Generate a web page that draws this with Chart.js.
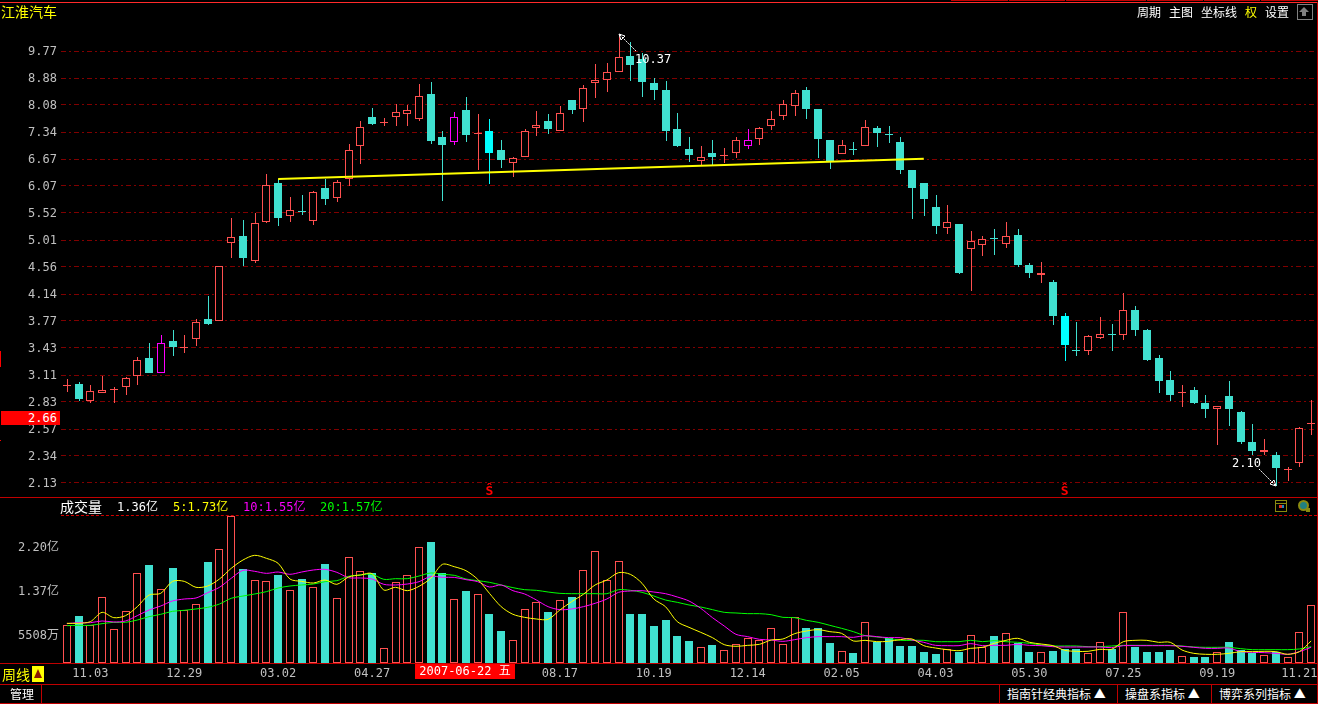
<!DOCTYPE html>
<html>
<head>
<meta charset="utf-8">
<title>江淮汽车</title>
<script src="https://cdn.jsdelivr.net/npm/chart.js@4/dist/chart.umd.js"></script>
<style>
  html, body { margin: 0; padding: 0; background: #000; overflow: hidden; }
  canvas { position: absolute; left: 0; }
  .t { position: absolute; white-space: nowrap; font: 12px/14px "DejaVu Sans Mono", "Noto Sans CJK SC", monospace; color: #fff; }
  .l { position: absolute; background: #c00000; }
</style>
</head>
<body>
<!-- frame lines -->
<div class="l" style="left:0;top:2px;width:1318px;height:1px;background:#ff2a2a"></div>
<div class="l" style="left:951px;top:0;width:57px;height:1px"></div>
<div class="l" style="left:1009px;top:0;width:56px;height:1px"></div>
<div class="l" style="left:1066px;top:0;width:80px;height:1px"></div>
<div class="l" style="left:1147px;top:0;width:56px;height:1px"></div>
<div class="l" style="left:1204px;top:0;width:56px;height:1px"></div>
<div class="l" style="left:1261px;top:0;width:57px;height:1px"></div>
<div class="l" style="left:1317px;top:2px;width:1px;height:702px"></div>
<div class="l" style="left:0;top:497px;width:1318px;height:1px"></div>
<div style="position:absolute;left:61px;top:515px;width:1256px;height:0;border-top:1px dashed #d00000"></div>
<div class="l" style="left:0;top:663px;width:1318px;height:1px"></div>
<div class="l" style="left:0;top:684px;width:1318px;height:1px"></div>
<div class="l" style="left:0;top:703px;width:1318px;height:1px"></div>
<div class="l" style="left:41px;top:684px;width:1px;height:20px"></div>
<div class="l" style="left:999px;top:684px;width:1px;height:20px"></div>
<div class="l" style="left:1117px;top:684px;width:1px;height:20px"></div>
<div class="l" style="left:1211px;top:684px;width:1px;height:20px"></div>
<div class="l" style="left:0;top:351px;width:1px;height:16px;background:#ff0000"></div>
<div class="l" style="left:0;top:440px;width:1px;height:1px;background:#ff0000"></div>

<canvas id="priceChart" width="1318" height="497" style="top:0"></canvas>
<canvas id="volumeChart" width="1318" height="186" style="top:497px"></canvas>

<!-- header -->
<div class="t" style="left:1px;top:3px;font-size:14px;line-height:16px;color:#ffff00;font-family:'Noto Sans CJK SC'">江淮汽车</div>
<div class="t" style="left:1137px;top:5px;font-family:'Noto Sans CJK SC'">周期</div>
<div class="t" style="left:1169px;top:5px;font-family:'Noto Sans CJK SC'">主图</div>
<div class="t" style="left:1201px;top:5px;font-family:'Noto Sans CJK SC'">坐标线</div>
<div class="t" style="left:1245px;top:5px;color:#ffff00;font-family:'Noto Sans CJK SC'">权</div>
<div class="t" style="left:1265px;top:5px;font-family:'Noto Sans CJK SC'">设置</div>
<div style="position:absolute;left:1297px;top:4px;width:14px;height:14px;border:1px solid #808080"></div>
<div style="position:absolute;left:1299px;top:7px;width:0;height:0;border-left:5px solid transparent;border-right:5px solid transparent;border-bottom:5px solid #808080"></div>
<div style="position:absolute;left:1302px;top:12px;width:4px;height:4px;background:#808080"></div>

<!-- price marker -->
<div class="t" style="left:1px;top:411px;width:56px;height:14px;padding-right:3px;background:#ff0000;text-align:right">2.66</div>

<!-- volume legend -->
<div class="t" style="left:60px;top:498px;font-size:14px;line-height:16px;font-family:'Noto Sans CJK SC'">成交量</div>
<div class="t" style="left:117px;top:500px">1.36亿</div>
<div class="t" style="left:173px;top:500px;color:#ffff00">5:1.73亿</div>
<div class="t" style="left:243px;top:500px;color:#ff00ff">10:1.55亿</div>
<div class="t" style="left:320px;top:500px;color:#00ff00">20:1.57亿</div>

<!-- volume panel icons -->
<div style="position:absolute;left:1275px;top:500px;width:10px;height:10px;border:1px solid #8a8a10"></div>
<div style="position:absolute;left:1275px;top:503px;width:12px;height:1px;background:#8a8a10"></div>
<div style="position:absolute;left:1279px;top:505px;width:3px;height:3px;background:#e03020"></div>
<div style="position:absolute;left:1282px;top:505px;width:2px;height:3px;background:#2080c0"></div>
<div style="position:absolute;left:1298px;top:500px;width:7px;height:7px;border:2px solid #8a8a10;border-radius:50%;background:#208080"></div>
<div style="position:absolute;left:1306px;top:508px;width:4px;height:4px;background:#8a8a10"></div>

<!-- bottom bars -->
<div class="t" style="left:2px;top:666px;font-size:14px;line-height:16px;color:#ffff00;font-family:'Noto Sans CJK SC'">周线</div>
<div style="position:absolute;left:32px;top:666px;width:12px;height:16px;background:#ffff00"></div>
<div style="position:absolute;left:34px;top:669px;width:0;height:0;border-left:4px solid transparent;border-right:4px solid transparent;border-bottom:9px solid #8b1a00"></div>
<div class="t" style="left:415px;top:664px;width:100px;height:15px;overflow:hidden;background:#ff0000;text-align:center;line-height:15px">2007-06-22 五</div>
<div class="t" style="left:10px;top:687px;font-family:'Noto Sans CJK SC'">管理</div>
<div class="t" style="left:1007px;top:687px;font-family:'Noto Sans CJK SC'">指南针经典指标 ▲</div>
<div class="t" style="left:1125px;top:687px;font-family:'Noto Sans CJK SC'">操盘系指标 ▲</div>
<div class="t" style="left:1219px;top:687px;font-family:'Noto Sans CJK SC'">博弈系列指标 ▲</div>

<script>
// weekly candles
let opens = [
  3.00, 3.01, 2.84, 2.92, 2.96, 2.98, 3.10, 3.30, 3.14, 3.51,
  3.44, 3.53, 3.79, 3.77, 4.97, 5.09, 4.65, 5.35, 6.13, 5.45,
  5.55, 5.37, 6.02, 5.81, 6.23, 6.98, 7.74, 7.60, 7.75, 7.83,
  7.69, 8.40, 7.22, 7.10, 7.93, 7.32, 7.37, 6.88, 6.59, 6.73,
  7.46, 7.63, 7.36, 8.22, 7.97, 8.72, 8.84, 9.07, 9.61, 9.51,
  8.74, 8.53, 7.42, 6.91, 6.63, 6.81, 6.77, 6.82, 7.00, 7.17,
  7.51, 7.78, 8.06, 8.53, 7.96, 7.15, 6.80, 6.91, 6.98, 7.45,
  7.30, 7.10, 6.41, 6.13, 5.64, 5.23, 5.31, 4.86, 4.93, 5.05,
  4.95, 5.10, 4.59, 4.43, 4.32, 3.83, 3.40, 3.39, 3.55, 3.60,
  3.58, 3.92, 3.65, 3.31, 3.06, 2.93, 2.95, 2.82, 2.76, 2.89,
  2.73, 2.46, 2.37, 2.35, 2.23, 2.28, 2.63
];
let closes = [
  3.00, 2.86, 2.94, 2.95, 2.96, 3.08, 3.28, 3.14, 3.48, 3.44,
  3.44, 3.76, 3.73, 4.57, 5.06, 4.71, 5.33, 6.08, 5.42, 5.57,
  5.54, 5.94, 5.80, 6.15, 6.88, 7.48, 7.55, 7.60, 7.87, 7.93,
  8.33, 7.12, 7.02, 7.73, 7.27, 7.32, 6.81, 6.65, 6.69, 7.36,
  7.53, 7.43, 7.85, 7.93, 8.57, 8.82, 9.07, 9.56, 9.30, 8.77,
  8.53, 7.37, 7.00, 6.77, 6.72, 6.72, 6.77, 7.13, 7.13, 7.44,
  7.70, 8.10, 8.44, 7.96, 7.17, 6.63, 7.01, 6.90, 7.47, 7.32,
  7.29, 6.43, 6.02, 5.80, 5.27, 5.35, 4.46, 5.00, 5.03, 5.04,
  5.08, 4.59, 4.46, 4.47, 3.83, 3.46, 3.39, 3.57, 3.60, 3.59,
  3.92, 3.65, 3.28, 3.05, 2.90, 2.93, 2.82, 2.76, 2.79, 2.76,
  2.46, 2.38, 2.39, 2.24, 2.23, 2.58, 2.63
];
let highs = [
  3.07, 3.04, 3.00, 3.10, 2.98, 3.09, 3.32, 3.48, 3.59, 3.65,
  3.59, 3.79, 4.12, 4.57, 5.42, 5.38, 5.52, 6.34, 6.22, 5.84,
  5.88, 5.96, 6.22, 6.20, 7.04, 7.63, 8.00, 7.71, 8.10, 8.07,
  8.70, 8.76, 7.37, 7.88, 8.30, 7.82, 7.68, 7.15, 6.72, 7.42,
  7.91, 7.82, 8.05, 8.22, 8.67, 9.34, 9.37, 10.37, 10.10, 9.71,
  8.89, 8.80, 7.85, 7.22, 6.99, 7.15, 6.94, 7.22, 7.42, 7.48,
  7.91, 8.22, 8.53, 8.60, 7.96, 7.15, 7.15, 7.10, 7.66, 7.50,
  7.50, 7.22, 6.41, 6.13, 5.88, 5.67, 5.31, 5.18, 5.09, 5.21,
  5.35, 5.21, 4.62, 4.64, 4.35, 3.88, 3.75, 3.59, 3.82, 3.73,
  4.16, 3.97, 3.66, 3.34, 3.16, 3.00, 2.98, 2.90, 2.79, 3.05,
  2.74, 2.62, 2.48, 2.37, 2.25, 2.59, 2.85
];
let lows = [
  2.93, 2.84, 2.82, 2.92, 2.82, 2.90, 3.00, 3.14, 3.14, 3.33,
  3.37, 3.45, 3.71, 3.77, 4.71, 4.57, 4.62, 5.32, 5.27, 5.35,
  5.48, 5.29, 5.67, 5.74, 6.07, 6.56, 7.53, 7.50, 7.50, 7.50,
  7.64, 7.04, 5.75, 7.02, 7.10, 6.43, 6.11, 6.47, 6.27, 6.73,
  7.24, 7.30, 7.36, 7.82, 7.60, 8.28, 8.46, 9.07, 8.80, 8.31,
  8.22, 7.12, 6.97, 6.61, 6.51, 6.54, 6.58, 6.70, 6.91, 7.02,
  7.40, 7.66, 7.76, 7.69, 6.70, 6.45, 6.80, 6.77, 6.98, 6.97,
  7.07, 6.32, 5.40, 5.46, 5.12, 5.12, 4.44, 4.19, 4.74, 4.75,
  4.88, 4.56, 4.38, 4.31, 3.72, 3.27, 3.33, 3.34, 3.53, 3.39,
  3.52, 3.57, 3.27, 2.92, 2.84, 2.78, 2.81, 2.67, 2.43, 2.60,
  2.44, 2.35, 2.35, 2.10, 2.14, 2.25, 2.52
];

// weeks drawn in another colour in the picture
let magentaWeeks = [8, 33, 58];
let brightWeeks = [36, 85];

// neckline drawn by hand on the chart: from week 18 to week 73
let necklineWeeks = [18, 73];
let necklinePrices = [6.22, 6.68];

let priceTicks = [2.13, 2.34, 2.57, 2.83, 3.11, 3.43, 3.77, 4.14, 4.56, 5.01, 5.52, 6.07, 6.67, 7.34, 8.08, 8.88, 9.77];

// volume in units of 亿
let volumes = [
  0.706, 0.881, 0.706, 1.231, 0.631, 0.969, 1.681, 1.838, 1.381, 1.781,
  0.988, 1.100, 1.894, 2.131, 2.756, 1.763, 1.550, 1.531, 1.650, 1.363,
  1.575, 1.419, 1.856, 1.213, 1.981, 1.719, 1.688, 0.275, 1.513, 1.644,
  2.169, 2.269, 1.688, 1.194, 1.350, 1.288, 0.919, 0.600, 0.425, 1.006,
  1.138, 0.956, 1.175, 1.238, 1.738, 2.094, 1.550, 1.906, 0.919, 0.919,
  0.694, 0.806, 0.506, 0.413, 0.294, 0.338, 0.238, 0.350, 0.463, 0.425,
  0.650, 0.356, 0.856, 0.656, 0.656, 0.375, 0.219, 0.188, 0.763, 0.394,
  0.463, 0.319, 0.319, 0.206, 0.169, 0.263, 0.206, 0.519, 0.306, 0.506,
  0.556, 0.369, 0.206, 0.200, 0.225, 0.263, 0.263, 0.181, 0.388, 0.263,
  0.950, 0.300, 0.206, 0.206, 0.244, 0.125, 0.113, 0.113, 0.200, 0.394,
  0.244, 0.188, 0.144, 0.206, 0.106, 0.575, 1.081
];
let ma5 = [
  0.744, 0.744, 0.775, 0.950, 0.850, 0.888, 1.056, 1.275, 1.306, 1.531,
  1.531, 1.419, 1.444, 1.575, 1.775, 1.931, 2.019, 1.963, 1.869, 1.575,
  1.531, 1.500, 1.556, 1.475, 1.613, 1.650, 1.675, 1.369, 1.419, 1.356,
  1.438, 1.588, 1.850, 1.806, 1.731, 1.569, 1.306, 1.056, 0.913, 0.856,
  0.825, 0.819, 0.994, 1.150, 1.288, 1.463, 1.556, 1.694, 1.663, 1.494,
  1.200, 1.056, 0.775, 0.669, 0.575, 0.475, 0.344, 0.313, 0.331, 0.350,
  0.431, 0.450, 0.550, 0.600, 0.625, 0.588, 0.556, 0.413, 0.425, 0.400,
  0.406, 0.438, 0.450, 0.325, 0.281, 0.250, 0.231, 0.275, 0.294, 0.369,
  0.425, 0.463, 0.388, 0.356, 0.325, 0.238, 0.219, 0.219, 0.256, 0.256,
  0.400, 0.425, 0.425, 0.388, 0.388, 0.244, 0.181, 0.163, 0.163, 0.181,
  0.213, 0.213, 0.219, 0.213, 0.163, 0.213, 0.413
];
let ma10 = [
  0.738, 0.756, 0.756, 0.788, 0.769, 0.788, 0.888, 0.994, 1.069, 1.163,
  1.200, 1.219, 1.319, 1.419, 1.588, 1.738, 1.719, 1.681, 1.706, 1.663,
  1.706, 1.744, 1.756, 1.700, 1.600, 1.594, 1.575, 1.475, 1.463, 1.481,
  1.525, 1.625, 1.606, 1.606, 1.563, 1.525, 1.425, 1.463, 1.356, 1.294,
  1.181, 1.056, 1.000, 1.013, 1.056, 1.119, 1.200, 1.325, 1.350, 1.356,
  1.331, 1.300, 1.238, 1.163, 1.025, 0.850, 0.694, 0.538, 0.494, 0.444,
  0.431, 0.406, 0.438, 0.475, 0.494, 0.494, 0.494, 0.481, 0.513, 0.494,
  0.475, 0.475, 0.431, 0.388, 0.331, 0.325, 0.325, 0.363, 0.325, 0.331,
  0.331, 0.350, 0.331, 0.325, 0.306, 0.300, 0.300, 0.300, 0.300, 0.288,
  0.325, 0.325, 0.325, 0.325, 0.325, 0.313, 0.294, 0.275, 0.275, 0.281,
  0.213, 0.200, 0.194, 0.181, 0.163, 0.213, 0.294
];
let ma20 = [
  0.700, 0.706, 0.706, 0.738, 0.763, 0.763, 0.806, 0.869, 0.913, 0.969,
  0.988, 1.013, 1.044, 1.106, 1.213, 1.256, 1.294, 1.338, 1.406, 1.444,
  1.463, 1.481, 1.525, 1.544, 1.625, 1.650, 1.663, 1.569, 1.581, 1.581,
  1.631, 1.688, 1.663, 1.644, 1.575, 1.544, 1.513, 1.463, 1.413, 1.375,
  1.363, 1.331, 1.306, 1.300, 1.300, 1.300, 1.300, 1.375, 1.363, 1.325,
  1.256, 1.181, 1.138, 1.088, 1.050, 1.000, 0.950, 0.938, 0.925, 0.925,
  0.906, 0.856, 0.850, 0.800, 0.763, 0.706, 0.650, 0.588, 0.513, 0.488,
  0.463, 0.425, 0.425, 0.425, 0.400, 0.400, 0.400, 0.425, 0.400, 0.419,
  0.400, 0.388, 0.369, 0.338, 0.319, 0.319, 0.319, 0.306, 0.306, 0.319,
  0.331, 0.331, 0.331, 0.331, 0.331, 0.319, 0.300, 0.294, 0.294, 0.294,
  0.269, 0.250, 0.250, 0.250, 0.250, 0.263, 0.306
];
let volumeTicks = [0.5508, 1.37, 2.20];
let volumeTickLabels = ["5508万", "1.37亿", "2.20亿"];

// date labels under the volume panel (the 06.22 one sits under the red box)
let dateTickWeeks = [2, 10, 18, 26, 42, 50, 58, 66, 74, 82, 90, 98, 105];
let dateTickLabels = ["11.03", "12.29", "03.02", "04.27", "08.17", "10.19", "12.14", "02.05", "04.03", "05.30", "07.25", "09.19", "11.21"];

const RED = "#ff5050";
const TURQUOISE = "#40e0d0";
const MONO = '"DejaVu Sans Mono", "Noto Sans CJK SC", monospace';

let categories = opens.map(function (open, i) {
  let at = dateTickWeeks.indexOf(i);
  return at >= 0 ? dateTickLabels[at] : "";
});

let bodyColours = opens.map(function (open, i) {
  if (magentaWeeks.includes(i)) return "#ff00ff";
  if (brightWeeks.includes(i)) return "#00ffff";
  return closes[i] >= open ? RED : TURQUOISE;
});

let necklineSeries = opens.map(function (open, i) {
  let at = necklineWeeks.indexOf(i);
  return at >= 0 ? necklinePrices[at] : null;
});

// Chart.js leaves bars on fractional pixels, the picture is all hard pixels
let snapBars = {
  id: "snapBars",
  afterDatasetsUpdate: function (chart) {
    chart.data.datasets.forEach(function (dataset, d) {
      if (dataset.type === "line") return;
      chart.getDatasetMeta(d).data.forEach(function (bar) {
        let top = Math.round(Math.min(bar.y, bar.base));
        let bottom = Math.round(Math.max(bar.y, bar.base));
        bar.y = top;
        bar.base = Math.max(bottom, top + 1);
        bar.x = Math.round(bar.x) + (dataset.barThickness === 1 ? 0.5 : 0);
      });
    });
  },
};

// keep the plot area from shrinking around the axis labels
function fitYAxis(axis) {
  axis.width = 61;
  axis.paddingTop = 0;
  axis.paddingBottom = 0;
}

function drawArrow(ctx, fromX, fromY, toX, toY) {
  let dx = Math.sign(fromX - toX);
  let dy = Math.sign(fromY - toY);
  ctx.save();
  ctx.strokeStyle = "#ffffff";
  ctx.lineWidth = 1;
  ctx.setLineDash([2, 1]);
  ctx.beginPath();
  ctx.moveTo(fromX, fromY);
  ctx.lineTo(toX, toY);
  ctx.stroke();
  ctx.setLineDash([]);
  ctx.beginPath();
  ctx.moveTo(toX, toY);
  ctx.lineTo(toX + dx * 6, toY + dy * 2);
  ctx.lineTo(toX + dx * 2, toY + dy * 6);
  ctx.closePath();
  ctx.stroke();
  ctx.restore();
}

// high/low notes and the red S marks
let priceMarks = {
  id: "priceMarks",
  afterDraw: function (chart) {
    let ctx = chart.ctx;
    let xScale = chart.scales.x;
    let yScale = chart.scales.y;
    let maxHigh = Math.max.apply(null, highs);
    let minLow = Math.min.apply(null, lows);
    let highX = Math.round(xScale.getPixelForValue(highs.indexOf(maxHigh)));
    let highY = Math.round(yScale.getPixelForValue(maxHigh));
    let lowX = Math.round(xScale.getPixelForValue(lows.indexOf(minLow)));
    let lowY = Math.round(yScale.getPixelForValue(minLow));

    drawArrow(ctx, highX + 17, highY + 17, highX, highY);
    drawArrow(ctx, lowX - 17, lowY - 17, lowX, lowY);

    ctx.save();
    ctx.fillStyle = "#ffffff";
    ctx.font = "12px " + MONO;
    ctx.textAlign = "left";
    ctx.fillText(maxHigh.toFixed(2), highX + 16, highY + 29);
    ctx.fillText(minLow.toFixed(2), lowX - 44, lowY - 19);

    ctx.fillStyle = "#ff0000";
    ctx.font = "bold 13px " + MONO;
    ctx.textAlign = "center";
    brightWeeks.forEach(function (week) {
      ctx.fillText("Ŝ", xScale.getPixelForValue(week), 495);
    });
    ctx.restore();
  },
};

// Price panel
new Chart(document.getElementById("priceChart"), {
  type: "bar",
  data: {
    labels: categories,
    datasets: [
      {
        type: "line",
        data: necklineSeries,
        borderColor: "#ffff00",
        borderWidth: 2,
        pointRadius: 0,
        spanGaps: true,
        order: 1,
      },
      {
        data: opens.map(function (open, i) { return [open, closes[i]]; }),
        grouped: false,
        barThickness: 8,
        backgroundColor: bodyColours.map(function (colour) {
          return colour === RED || colour === "#ff00ff" ? "#000000" : colour;
        }),
        borderColor: bodyColours,
        borderWidth: bodyColours.map(function (colour) {
          return colour === RED || colour === "#ff00ff" ? 1 : 0;
        }),
        borderSkipped: false,
        inflateAmount: 0,
        order: 2,
      },
      {
        data: lows.map(function (low, i) { return [low, highs[i]]; }),
        grouped: false,
        barThickness: 1,
        backgroundColor: bodyColours,
        borderWidth: 0,
        borderSkipped: false,
        inflateAmount: 0,
        order: 3,
      },
    ],
  },
  options: {
    responsive: false,
    animation: false,
    events: [],
    devicePixelRatio: 1,
    layout: { padding: { top: 10, bottom: 1, right: 1, left: 0 } },
    plugins: { legend: { display: false }, tooltip: { enabled: false } },
    scales: {
      x: { display: false },
      y: {
        type: "logarithmic",
        min: 2.03,
        max: 11.3,
        afterBuildTicks: function (axis) {
          axis.ticks = priceTicks.map(function (value) { return { value: value }; });
        },
        afterFit: fitYAxis,
        ticks: {
          autoSkip: false,
          color: "#c0c0c0",
          padding: 4,
          labelOffset: 1,
          font: { family: MONO, size: 12 },
          callback: function (value) { return value.toFixed(2); },
        },
        grid: { color: "#800000", drawTicks: false },
        border: { display: false, dash: [5, 3, 2, 3] },
      },
    },
  },
  plugins: [snapBars, priceMarks],
});

function averageLine(values, colour) {
  return {
    type: "line",
    data: values,
    borderColor: colour,
    borderWidth: 1,
    pointRadius: 0,
    tension: 0.3,
    order: 1,
  };
}

// Volume panel
new Chart(document.getElementById("volumeChart"), {
  type: "bar",
  data: {
    labels: categories,
    datasets: [
      averageLine(ma5, "#ffff00"),
      averageLine(ma10, "#ff00ff"),
      averageLine(ma20, "#00ff00"),
      {
        data: volumes,
        grouped: false,
        barThickness: 8,
        backgroundColor: opens.map(function (open, i) {
          return closes[i] >= open ? "#000000" : TURQUOISE;
        }),
        borderColor: RED,
        borderWidth: opens.map(function (open, i) {
          return closes[i] >= open ? 1 : 0;
        }),
        borderSkipped: false,
        inflateAmount: 0,
        order: 2,
      },
    ],
  },
  options: {
    responsive: false,
    animation: false,
    events: [],
    devicePixelRatio: 1,
    layout: { padding: { top: 1, bottom: 0, right: 1, left: 0 } },
    plugins: { legend: { display: false }, tooltip: { enabled: false } },
    scales: {
      x: {
        afterFit: function (axis) {
          axis.height = 20;
          axis.paddingLeft = 0;
          axis.paddingRight = 0;
        },
        ticks: {
          autoSkip: false,
          maxRotation: 0,
          minRotation: 0,
          color: "#c0c0c0",
          padding: 4,
          font: { family: MONO, size: 12 },
        },
        grid: { display: false, drawTicks: false },
        border: { display: false },
      },
      y: {
        min: 0,
        max: 3.094,
        afterBuildTicks: function (axis) {
          axis.ticks = volumeTicks.map(function (value) { return { value: value }; });
        },
        afterFit: fitYAxis,
        ticks: {
          autoSkip: false,
          color: "#c0c0c0",
          padding: 2,
          labelOffset: 2,
          font: { family: MONO, size: 12 },
          callback: function (value) {
            return volumeTickLabels[volumeTicks.indexOf(value)];
          },
        },
        grid: { display: false, drawTicks: false },
        border: { display: false },
      },
    },
  },
  plugins: [snapBars],
});
</script>
</body>
</html>
